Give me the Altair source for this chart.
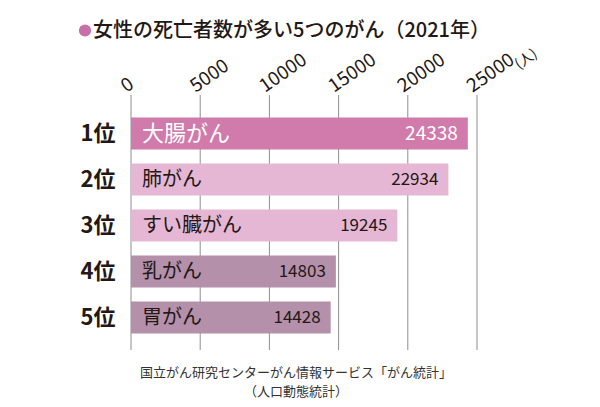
import altair as alt
import pandas as pd

# ---- data ----
ranks = ["1位", "2位", "3位", "4位", "5位"]
cancers = ["大腸がん", "肺がん", "すい臓がん", "乳がん", "胃がん"]
deaths = [24338, 22934, 19245, 14803, 14428]
tick_values = [0, 5000, 10000, 15000, 20000, 25000]
title_text = "女性の死亡者数が多い5つのがん（2021年）"
unit_text = "(人)"
source_lines = ["国立がん研究センターがん情報サービス「がん統計」", "（人口動態統計）"]

df = pd.DataFrame({"rank": ranks, "cancer": cancers, "deaths": deaths})
grid_df = pd.DataFrame({"deaths": tick_values})
one = pd.DataFrame({"k": [0]})

FONT = "Noto Sans CJK JP"
DARK = "#231815"
bar_colors = ["#d07bab", "#e6b7d4", "#e6b7d4", "#b590aa", "#b590aa"]

x_scale = alt.Scale(domain=[0, 25000], nice=False, zero=True)
y_scale = alt.Scale(domain=ranks, paddingInner=0.3, paddingOuter=0.15)

x_axis = alt.Axis(
    orient="top", values=tick_values, format="d", title=None,
    labelAngle=325, labelAlign="left", labelBaseline="alphabetic",
    labelFontSize=19, labelFont=FONT, labelColor=DARK,
    labelPadding=18, labelOffset=-5, labelOverlap=False, labelFlush=False,
    domain=False, ticks=False, tickSize=0, grid=False,
)
y_axis = alt.Axis(
    title=None, domain=False, ticks=False, labelFontSize=22,
    labelFontWeight="bold", labelColor=DARK, labelPadding=16,
    labelFont=FONT, labelAlign="right",
)

X = alt.X("deaths:Q", scale=x_scale, axis=x_axis)
Y = alt.Y("rank:N", sort=ranks, scale=y_scale, axis=y_axis)

is_first = alt.datum.rank == "1位"

grid = alt.Chart(grid_df).mark_rule(color="#8e8e8e", strokeWidth=1).encode(
    x=X,
    y=alt.value(-15.5),
    y2=alt.value(239.5),
)

bars = alt.Chart(df).mark_bar(cornerRadius=0).encode(
    x=X,
    y=Y,
    color=alt.Color("rank:N", scale=alt.Scale(domain=ranks, range=bar_colors), legend=None),
)

names = alt.Chart(df).mark_text(align="left", baseline="middle", dx=11, font=FONT).encode(
    x=alt.value(0),
    y=Y,
    text="cancer:N",
    color=alt.condition(is_first, alt.value("white"), alt.value(DARK)),
    size=alt.condition(is_first, alt.value(22), alt.value(20)),
)

vals = alt.Chart(df).mark_text(align="right", baseline="middle", dx=-10, font=FONT).encode(
    x=X,
    y=Y,
    text=alt.Text("deaths:Q", format="d"),
    color=alt.condition(is_first, alt.value("white"), alt.value(DARK)),
    size=alt.condition(is_first, alt.value(19), alt.value(17)),
)

dot = alt.Chart(one).mark_point(filled=True, shape="circle", size=150, color="#c96fa8", opacity=1).encode(
    x=alt.value(-46), y=alt.value(-80)
)

title = alt.Chart(one).mark_text(
    text=title_text, align="left", baseline="middle", font=FONT, fontSize=20,
    fontWeight=500, color=DARK,
).encode(x=alt.value(-38), y=alt.value(-79.5))

unit = alt.Chart(one).mark_text(
    text=unit_text, align="left", baseline="alphabetic", font=FONT, fontSize=14,
    angle=325, color=DARK,
).encode(x=alt.value(388), y=alt.value(-41))

src1 = alt.Chart(one).mark_text(
    text=source_lines[0], align="center", baseline="middle", font=FONT, fontSize=13, color="#333333",
).encode(x=alt.value(165), y=alt.value(262.5))

src2 = alt.Chart(one).mark_text(
    text=source_lines[1], align="center", baseline="middle", font=FONT, fontSize=13, color="#333333",
).encode(x=alt.value(165), y=alt.value(281.5))

chart = alt.layer(grid, bars, names, vals, dot, title, unit, src1, src2).properties(
    width=346, height=230,
    autosize=alt.AutoSizeParams(type="none"),
    padding={"left": 123, "top": 102.5, "right": 115, "bottom": 59},
    background="white",
).configure_view(stroke=None)

chart.save("out.html", embed_options={"renderer": "svg", "actions": False})
